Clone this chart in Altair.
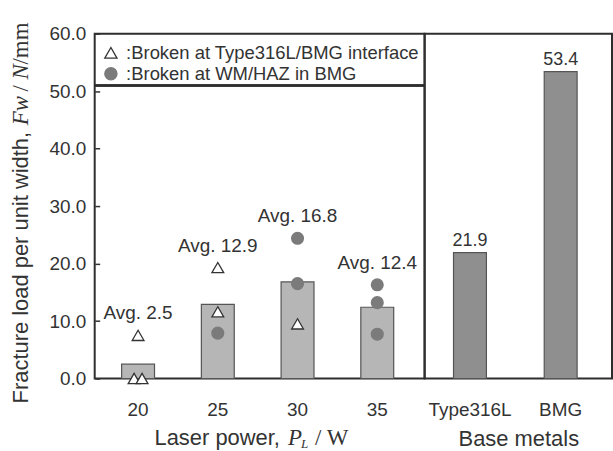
import altair as alt
import pandas as pd

# ---------------- data ----------------
powers = ["20", "25", "30", "35"]
avg_values = [2.5, 12.9, 16.8, 12.4]

point_power = ["20", "20", "20", "25", "25", "25", "30", "30", "30", "35", "35", "35"]
point_value = [7.5, 0.0, 0.0, 19.3, 11.6, 7.9, 24.4, 16.5, 9.5, 16.3, 13.2, 7.7]
TRI = "Broken at Type316L/BMG interface"
CIR = "Broken at WM/HAZ in BMG"
point_type = [TRI, TRI, TRI, TRI, TRI, CIR, CIR, CIR, TRI, CIR, CIR, CIR]

base_metals = ["Type316L", "BMG"]
base_values = [21.9, 53.4]

# ---------------- tables ----------------
df_bar = pd.DataFrame({"power": powers, "avg": avg_values})
df_bar["label"] = ["Avg. %.1f" % v for v in avg_values]

df_pts = pd.DataFrame({"power": point_power, "value": point_value, "type": point_type})
# coincident points are drawn side by side so both stay visible
df_pts["side"] = 0
for (p, v), g in df_pts.groupby(["power", "value"]):
    if len(g) == 2:
        df_pts.loc[g.index, "side"] = [-1, 1]
top = df_pts.groupby("power")["value"].max()
df_bar["top"] = df_bar["power"].map(top)

df_base = pd.DataFrame({"metal": base_metals, "value": base_values})
df_base["label"] = ["%.1f" % v for v in base_values]

SANS = "Liberation Sans"
SERIF = "Liberation Serif"
TXT = "#333333"
FRAME = "#2e2e2e"
LW, RW, H = 331, 188, 346
TICK_FS = 19
TITLE_FS = 22
PAD_OUT_L = 0.069
STEP_L = LW / (len(powers) + 2 * PAD_OUT_L)

yscale = alt.Scale(domain=[0, 60], nice=False, zero=True)
xscale_l = alt.Scale(domain=powers, paddingInner=0, paddingOuter=PAD_OUT_L, align=0.32)
xscale_r = alt.Scale(domain=base_metals, paddingInner=0, paddingOuter=0.033, align=0.0)

# ---------------- left panel ----------------
xl = alt.X("power:N", scale=xscale_l, sort=powers,
           axis=alt.Axis(title=None, labelAngle=0, ticks=False, domain=False,
                         labelPadding=22, labelFontSize=TICK_FS, labelFont=SANS, labelColor=TXT))

bars_l = alt.Chart(df_bar).mark_bar(size=33, fill="#b6b6b6", stroke="#555555", strokeWidth=1.2).encode(
    x=xl,
    y=alt.Y("avg:Q", scale=yscale,
            axis=alt.Axis(title=None, values=[0, 10, 20, 30, 40, 50, 60], format=".1f",
                          grid=False, domain=False, tickSize=5, offset=-5, tickColor=TXT,
                          tickWidth=1.5, labelPadding=9, labelFontSize=TICK_FS, labelFont=SANS,
                          labelColor=TXT)),
)

pts = alt.Chart(df_pts).mark_point(filled=True, size=140, strokeWidth=1.3, opacity=1).encode(
    x=alt.X("power:N", scale=xscale_l, sort=powers),
    xOffset=alt.XOffset("side:Q", scale=alt.Scale(domain=[-1, 1],
                                                   range=[STEP_L / 2 - 4, STEP_L / 2 + 4])),
    y=alt.Y("value:Q", scale=yscale),
    shape=alt.Shape("type:N", scale=alt.Scale(domain=[TRI, CIR], range=["triangle-up", "circle"]),
                    legend=alt.Legend(title=None, orient="none", legendX=7, legendY=10,
                                      labelExpr="':' + datum.label", labelFontSize=18.5,
                                      labelFont=SANS, labelColor=TXT, symbolSize=150,
                                      symbolStrokeWidth=1.3, labelOffset=6, rowPadding=2,
                                      labelLimit=400, padding=0)),
    fill=alt.Fill("type:N", scale=alt.Scale(domain=[TRI, CIR], range=["white", "#7b7b7b"]),
                  legend=alt.Legend(title=None)),
    stroke=alt.Stroke("type:N", scale=alt.Scale(domain=[TRI, CIR], range=["#333333", "#7b7b7b"]),
                      legend=alt.Legend(title=None)),
)

avg_txt = alt.Chart(df_bar).mark_text(dy=-22, fontSize=19, font=SANS, color=TXT, baseline="middle").encode(
    x=alt.X("power:N", scale=xscale_l, sort=powers),
    y=alt.Y("top:Q", scale=yscale),
    text="label:N",
)

legend_line = alt.Chart(df_bar).mark_rule(color=FRAME, strokeWidth=2).encode(
    x=alt.value(0), x2=alt.value(LW), y=alt.value(52)
)

# axis titles with italic symbols
def tx(text, x, y, font=SANS, size=TITLE_FS, style="normal", align="left", angle=0):
    return alt.Chart(df_bar.head(1)).mark_text(
        text=text, font=font, fontSize=size, fontStyle=style, align=align, angle=angle,
        baseline="middle", color=TXT
    ).encode(x=alt.value(x), y=alt.value(y))

xtitle = [
    tx("Laser power,", 60, 406),
    tx("P", 194, 406, font=SERIF, size=23, style="italic"),
    tx("L", 207, 412, font=SERIF, size=13, style="italic"),
    tx("/ W", 221, 406, font=SERIF, size=23),
]
ytitle = [
    tx("Fracture load per unit width,", -74, 371, angle=270),
    tx("Fw", -74, 92, font=SERIF, size=23, style="italic", angle=270),
    tx("/", -74, 58, font=SERIF, size=23, angle=270),
    tx("N", -74, 46, font=SERIF, size=23, style="italic", angle=270),
    tx("/mm", -74, 31, font=SERIF, size=23, angle=270),
]

left = alt.layer(bars_l, pts, avg_txt, legend_line, *xtitle, *ytitle).properties(width=LW, height=H)

# ---------------- right panel ----------------
xr = alt.X("metal:N", scale=xscale_r, sort=base_metals,
           axis=alt.Axis(title="Base metals", labelAngle=0, ticks=False, domain=False,
                         labelPadding=22, labelFontSize=TICK_FS, labelFont=SANS, labelColor=TXT,
                         titleFontSize=TITLE_FS, titleFont=SANS, titleFontWeight="normal",
                         titleColor=TXT, titlePadding=9))
bars_r = alt.Chart(df_base).mark_bar(size=33, fill="#8f8f8f", stroke="#555555", strokeWidth=1.2).encode(
    x=xr,
    y=alt.Y("value:Q", scale=yscale, axis=None),
)
txt_r = alt.Chart(df_base).mark_text(dy=-3, fontSize=18, font=SANS, color=TXT, baseline="bottom").encode(
    x=alt.X("metal:N", scale=xscale_r, sort=base_metals),
    y=alt.Y("value:Q", scale=yscale),
    text="label:N",
)
right = alt.layer(bars_r, txt_r).properties(width=RW, height=H)

chart = alt.hconcat(left, right, spacing=0, bounds="flush").resolve_scale(y="independent").properties(
    padding={"left": 8, "top": 20, "right": 0, "bottom": 0},
).configure(
    background="white",
    view=alt.ViewConfig(stroke=FRAME, strokeWidth=2),
)

chart.save("out.html", embed_options={"renderer": "svg", "actions": False})
